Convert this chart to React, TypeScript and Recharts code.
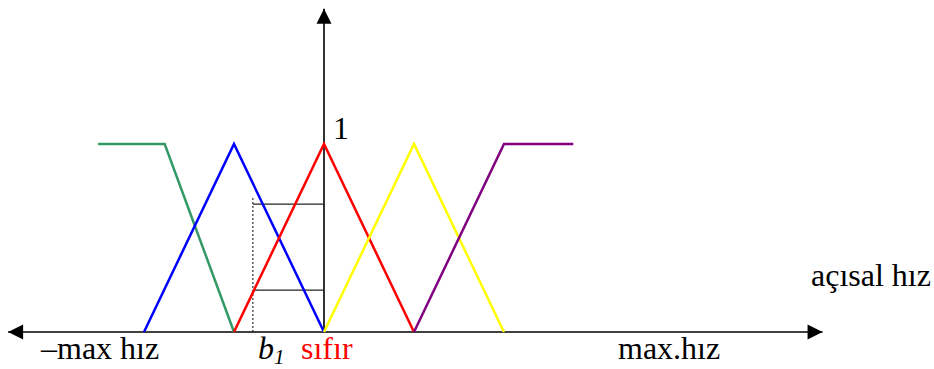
import React from 'react';
import { LineChart, Line, XAxis, YAxis } from 'recharts';

// membership functions: x in speed steps, y in membership degree
const negBig = [{ x: -2.51, y: 1 }, { x: -1.77, y: 1 }, { x: -1, y: 0 }];
const negSmall = [{ x: -2, y: 0 }, { x: -1, y: 1 }, { x: 0, y: 0 }];
const zero = [{ x: -1, y: 0 }, { x: 0, y: 1 }, { x: 1, y: 0 }];
const posSmall = [{ x: 0, y: 0 }, { x: 1, y: 1 }, { x: 2, y: 0 }];
const posBig = [{ x: 1, y: 0 }, { x: 2, y: 1 }, { x: 2.77, y: 1 }];

// b1 read-off guides
const upperGuide = [{ x: -0.79, y: 0.68 }, { x: 0, y: 0.68 }];
const lowerGuide = [{ x: -0.79, y: 0.223 }, { x: 0, y: 0.223 }];
const b1Guide = [{ x: -0.79, y: 0 }, { x: -0.79, y: 0.72 }];

// axes
const speedAxis = [{ x: -3.51, y: 0 }, { x: 5.54, y: 0 }];
const degreeAxis = [{ x: 0, y: 0 }, { x: 0, y: 1.72 }];

const X_DOMAIN = [-3.6, 6.778];
const Y_DOMAIN = [-0.197, 1.766];

const series = [
  { name: 'negBig', data: negBig, color: '#339966' },
  { name: 'negSmall', data: negSmall, color: '#0000ff' },
  { name: 'zero', data: zero, color: '#ff0000' },
  { name: 'posSmall', data: posSmall, color: '#ffff00' },
  { name: 'posBig', data: posBig, color: '#800080' },
];

const W = 934;
const H = 369;
const textStyle: React.CSSProperties = { fontFamily: 'Liberation Serif', fontSize: 32 };

// arrow heads drawn at the end points of an axis line
const arrowDot = (dir: 'h' | 'v') => (props: any) => {
  const { cx, cy, index } = props;
  const len = 15;
  const half = 7.5;
  let pts = '';
  if (dir === 'h') {
    const s = index === 0 ? 1 : -1;
    pts = `${cx},${cy} ${cx + s * len},${cy - half} ${cx + s * len},${cy + half}`;
  } else {
    if (index === 0) return <g key={`a-${index}`} />;
    pts = `${cx},${cy} ${cx - half},${cy + len} ${cx + half},${cy + len}`;
  }
  return <polygon key={`a-${index}`} points={pts} fill="#000" />;
};

const App = () => {
  return (
    <div style={{ position: 'absolute', left: 0, top: 0, width: W, height: H, background: '#fff' }}>
      <LineChart width={W} height={H} margin={{ top: 0, right: 0, bottom: 0, left: 0 }}>
        <XAxis type="number" dataKey="x" domain={X_DOMAIN} hide allowDataOverflow />
        <YAxis type="number" dataKey="y" domain={Y_DOMAIN} hide allowDataOverflow />
        <Line data={speedAxis} dataKey="y" type="linear" stroke="#000" strokeWidth={1.6}
          dot={arrowDot('h')} activeDot={false} isAnimationActive={false} />
        <Line data={degreeAxis} dataKey="y" type="linear" stroke="#000" strokeWidth={1.6}
          dot={arrowDot('v')} activeDot={false} isAnimationActive={false} />
        <Line data={upperGuide} dataKey="y" type="linear" stroke="#222" strokeWidth={1.3}
          dot={false} activeDot={false} isAnimationActive={false} />
        <Line data={lowerGuide} dataKey="y" type="linear" stroke="#222" strokeWidth={1.3}
          dot={false} activeDot={false} isAnimationActive={false} />
        <Line data={b1Guide} dataKey="y" type="linear" stroke="#000" strokeWidth={1}
          strokeDasharray="2 2" dot={false} activeDot={false} isAnimationActive={false} />
        {series.map((s) => (
          <Line key={s.name} data={s.data} dataKey="y" type="linear" stroke={s.color}
            strokeWidth={2.5} dot={false} activeDot={false} isAnimationActive={false} />
        ))}
      </LineChart>
      <svg width={W} height={H} style={{ position: 'absolute', left: 0, top: 0, pointerEvents: 'none' }}>
        <text x={333} y={139} style={textStyle}>1</text>
        <text x={811} y={286} style={textStyle}>açısal hız</text>
        <text x={41} y={359} style={textStyle}>–max hız</text>
        <text x={618} y={359} style={textStyle}>max.hız</text>
        <text x={258} y={359} style={{ ...textStyle, fontStyle: 'italic' }}>
          b<tspan style={{ fontSize: 21 }} dy={5}>1</tspan>
        </text>
        <text x={301} y={359} style={textStyle} fill="#ff0000">sıfır</text>
      </svg>
    </div>
  );
};

export default App;
